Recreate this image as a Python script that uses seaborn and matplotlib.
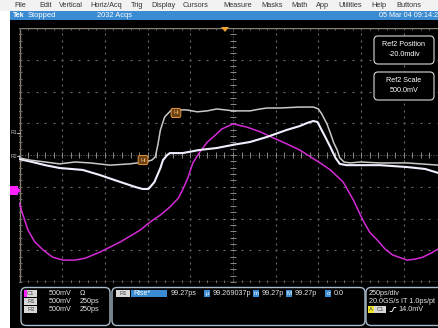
import numpy as np
import pandas as pd
import matplotlib
matplotlib.use("Agg")
import matplotlib.pyplot as plt
from matplotlib.patches import Rectangle, FancyBboxPatch, Polygon
import seaborn as sns

sns.set_theme(style="dark")
plt.rcParams["font.family"] = ["Liberation Sans", "DejaVu Sans"]

# ---------------------------------------------------------------- waveforms
# time in ps (250 ps/div), level in mV (500 mV/div)
ch1_t = [-1250, -1235, -1220, -1200, -1160, -1110, -1055, -995, -925, -865,
         -780, -660, -545, -485, -425, -370, -320, -295, -265, -235, -195,
         -150, -115, -65, 0, 80, 160, 235, 315, 390, 510, 570, 645, 705, 760,
         800, 845, 890, 935, 1020, 1065, 1110, 1160, 1210, 1250]
ch1_v = [-760, -900, -1025, -1185, -1370, -1500, -1610, -1655, -1655, -1625,
         -1530, -1370, -1185, -1055, -945, -820, -680, -550, -365, -125, 45,
         205, 285, 410, 490, 440, 365, 270, 175, 80, -125, -235, -425, -710,
         -1025, -1215, -1340, -1480, -1575, -1655, -1640, -1610, -1545, -1465,
         -1400]

ref1_t = [-1250, -1190, -1100, -1015, -925, -835, -720, -605, -515, -475,
          -455, -440, -425, -400, -355, -310, -270, -210, -150, -95, -45, 0,
          100, 160, 200, 275, 390, 470, 500, 520, 550, 570, 590, 610, 625,
          650, 685, 745, 860, 1020, 1205, 1250]
ref1_v = [-45, -80, -110, -140, -110, -125, -160, -140, -110, -80, -30, 160,
          395, 600, 725, 710, 710, 680, 695, 725, 710, 695, 695, 725, 740, 740,
          755, 755, 725, 645, 490, 345, 190, 80, -45, -110, -125, -110, -125,
          -125, -160, -160]

ref2_t = [-1250, -1175, -1100, -1015, -880, -780, -660, -570, -530, -495,
          -485, -460, -445, -425, -410, -385, -370, -295, -195, -95, 0, 100,
          200, 315, 390, 435, 470, 495, 510, 540, 570, 600, 625, 665, 745, 860,
          1020, 1125, 1205, 1250]
ref2_v = [-65, -110, -160, -205, -235, -315, -425, -505, -535, -535, -505,
          -425, -330, -205, -80, 0, 30, 30, 80, 110, 160, 205, 285, 395, 455,
          505, 535, 520, 440, 285, 125, -45, -140, -160, -160, -160, -190,
          -220, -285, -315]

# ---------------------------------------------------------------- texts
menu_items = ["File", "Edit", "Vertical", "Horiz/Acq", "Trig", "Display",
              "Cursors", "Measure", "Masks", "Math", "App", "Utilities",
              "Help", "Buttons"]
status_run = "Stopped"
status_acqs = "2032 Acqs"
status_date = "05 Mar 04 09:14:2"
ch_rows = [("C1", "500mV", "\u03a9"), ("R1", "500mV", "250ps"),
           ("R2", "500mV", "250ps")]
meas_name = "Rise*"
meas_value = "99.27ps"
meas_stats = [("\u03bc", "99.269037p"), ("m", "99.27p"), ("M", "99.27p"),
              ("\u03c3", "0.0")]
horiz_lines = ["250ps/div", "20.0GS/s IT 1.0ps/pt"]
trig_level = "14.0mV"
ref_boxes = [("Ref2 Position", "-20.0mdiv"), ("Ref2 Scale", "500.0mV")]

# ---------------------------------------------------------------- colours
MAGENTA = "#d42ad6"
REF1 = "#c9c9c9"
REF2 = "#eef0ff"
GRID = "#6f6f6f"
FRAME = "#8c8470"
BLUE = "#3b8bd3"
BORDER = "#a9bccd"
TXT = "#e6e6e6"
ORANGE = "#e8963a"

W, H = 439, 328
fig = plt.figure(figsize=(W / 100, H / 100), dpi=100)
fig.patch.set_facecolor("white")


def pixel_axes(z):
    a = fig.add_axes([0, 0, 1, 1], zorder=z)
    a.set_xlim(0, W)
    a.set_ylim(H, 0)
    a.axis("off")
    a.patch.set_alpha(0)
    return a


bg = pixel_axes(0)
# instrument screen
bg.add_patch(Rectangle((10, 20), W - 10, H - 20, color="black", lw=0))
# menu bar
bg.add_patch(Rectangle((0, 0), W, 11, color="#f2f2f2", lw=0))
menu_x = [14, 39, 59, 90, 131, 151, 183, 223, 261, 291, 316, 338, 371, 396]
for x, s in zip(menu_x, menu_items):
    bg.text(x, 5.8, s, fontsize=5.3, color="#333333", va="center", ha="left")
# status bar
bg.add_patch(Rectangle((10, 11), W - 10, 9, color=BLUE, lw=0))
bg.text(13, 15.6, "Tek", fontsize=5, color="white", va="center",
        fontweight="bold")
bg.text(28, 15.6, status_run, fontsize=5.4, color="white", va="center")
bg.text(97, 15.6, status_acqs, fontsize=5.4, color="white", va="center")
bg.text(438, 15.6, status_date, fontsize=5.2, color="white", va="center",
        ha="right")

# ---------------------------------------------------------------- graticule
x0, x1, y0, y1 = 19.5, 446.5, 28, 282
ax = fig.add_axes([x0 / W, 1 - y1 / H, (x1 - x0) / W, (y1 - y0) / H],
                  zorder=1)
ax.set_xlim(-1250, 1250)
ax.set_ylim(-2000, 2000)
ax.patch.set_alpha(0)
for s in ax.spines.values():
    s.set_visible(False)
ax.set_xticks([])
ax.set_yticks([])

sub_x = np.arange(-1250, 1251, 50)
sub_y = np.arange(-2000, 2001, 100)
for k in range(-4, 5):
    if k == 0:
        continue
    ax.plot(np.full(sub_y.size, k * 250), sub_y, ls="none", marker="|",
            ms=1.3, mew=0.8, color=GRID)
for k in range(-3, 4):
    if k == 0:
        continue
    ax.plot(sub_x, np.full(sub_x.size, k * 500), ls="none", marker="_",
            ms=1.3, mew=0.8, color=GRID)
# centre cross with sub-division ticks
ax.axhline(0, color=GRID, lw=0.5, ls=(0, (2, 2)))
ax.axvline(0, color=GRID, lw=0.5, ls=(0, (2, 2)))
ax.plot(sub_x, np.zeros(sub_x.size), ls="none", marker="|", ms=4.2,
        mew=0.7, color="#8a8a8a")
ax.plot(np.zeros(sub_y.size), sub_y, ls="none", marker="_", ms=4.2,
        mew=0.7, color="#8a8a8a")
# frame with inward ticks
ax.axhline(-2000, color=FRAME, lw=1.0)
ax.axhline(2000, color=FRAME, lw=1.0)
ax.axvline(-1250, color=FRAME, lw=1.0)
ax.plot(sub_x, np.full(sub_x.size, -2000), ls="none", marker="|", ms=3.5,
        mew=0.7, color=GRID)
ax.plot(sub_x, np.full(sub_x.size, 2000), ls="none", marker="|", ms=3.5,
        mew=0.7, color=GRID)
ax.plot(np.full(sub_y.size, -1250), sub_y, ls="none", marker="_", ms=3.5,
        mew=0.7, color=GRID)

# ---------------------------------------------------------------- traces
ch1 = pd.DataFrame({"t": ch1_t, "v": ch1_v})
r1 = pd.DataFrame({"t": ref1_t, "v": ref1_v})
r2 = pd.DataFrame({"t": ref2_t, "v": ref2_v})
sns.lineplot(data=ch1, x="t", y="v", ax=ax, color=MAGENTA, lw=1.1,
             estimator=None, sort=False)
sns.lineplot(data=r2, x="t", y="v", ax=ax, color=REF2, lw=1.5,
             estimator=None, sort=False)
sns.lineplot(data=r1, x="t", y="v", ax=ax, color=REF1, lw=1.1,
             estimator=None, sort=False)
ax.set_xlabel("")
ax.set_ylabel("")

# rise-time reference level tags on the Ref1 edge
tag_style = dict(boxstyle="round,pad=0.35,rounding_size=0.3", fc="#6a4418",
                 ec=ORANGE, lw=0.7)
ax.text(-527, -80, "Hi", fontsize=4.2, color="#f4b060", ha="center",
        va="center", bbox=tag_style)
ax.text(-334, 662, "Hi", fontsize=4.2, color="#f4b060", ha="center",
        va="center", bbox=tag_style)

# ---------------------------------------------------------------- overlays
fg = pixel_axes(2)
# trigger position marker
fg.add_patch(Polygon([[221, 27], [229, 27], [225, 32]], color="#f0a030",
                     lw=0))
# reference / channel ground markers
fg.text(11, 133, "R1", fontsize=3.8, color="#bbbbbb", va="center")
fg.plot([17, 20], [133, 133], color="#bbbbbb", lw=0.8)
fg.text(11, 156, "R2", fontsize=3.8, color="#bbbbbb", va="center")
fg.plot([17, 20], [156, 156], color="#bbbbbb", lw=0.8)
fg.add_patch(Rectangle((10, 186), 8, 9, color="#ff20ff", lw=0))
fg.add_patch(Polygon([[18, 188], [21, 190.5], [18, 193]], color="#ff20ff",
                     lw=0))

# Ref2 setting boxes
for i, (a, b) in enumerate(ref_boxes):
    top = 36 + i * 36
    fg.add_patch(FancyBboxPatch((374, top), 60, 28,
                                boxstyle="round,pad=0,rounding_size=4",
                                fc="black", ec="#d8d8d8", lw=0.8))
    fg.text(404, top + 8, a, fontsize=5.2, color="white", ha="center",
            va="center")
    fg.text(404, top + 19, b, fontsize=5.2, color="white", ha="center",
            va="center")

# readout panels
panels = [(21, 89), (112, 253), (366, 80)]
for px, pw in panels:
    fg.add_patch(FancyBboxPatch((px, 287.5), pw, 38,
                                boxstyle="round,pad=0,rounding_size=5",
                                fc="black", ec=BORDER, lw=1.0))

row_y = [293.5, 301.5, 309.5]
for (lab, scale, extra), yy in zip(ch_rows, row_y):
    fg.add_patch(Rectangle((24, yy - 3.3), 13, 6.6, color="#d8d8d8", lw=0))
    if lab == "C1":
        fg.add_patch(Rectangle((24, yy - 3.3), 3, 6.6, color="#ff20ff",
                               lw=0))
    fg.text(31, yy, lab, fontsize=4.2, color="#444444", ha="center",
            va="center")
    fg.text(49, yy, scale, fontsize=5.2, color=TXT, va="center")
    fg.text(80, yy, extra, fontsize=5.2, color=TXT, va="center")

y_m = 293.5
fg.add_patch(Rectangle((116, y_m - 3.3), 14, 6.6, color="#d8d8d8", lw=0))
fg.text(123, y_m, "R1", fontsize=4.2, color="#444444", ha="center",
        va="center")
fg.add_patch(Rectangle((131, y_m - 3.3), 36, 6.6, color=BLUE, lw=0))
fg.text(133, y_m, meas_name, fontsize=5.2, color="white", va="center")
fg.text(171, y_m, meas_value, fontsize=5.2, color=TXT, va="center")
stat_x = [204, 253, 286, 325]
for (sym, val), sx in zip(meas_stats, stat_x):
    fg.add_patch(Rectangle((sx, y_m - 3.3), 6.5, 6.6, color=BLUE, lw=0))
    fg.text(sx + 3.25, y_m, sym, fontsize=4.4, color="white", ha="center",
            va="center")
    fg.text(sx + 9, y_m, val, fontsize=5.2, color=TXT, va="center")

fg.text(369, 293.5, horiz_lines[0], fontsize=5.2, color=TXT, va="center")
fg.text(369, 301.5, horiz_lines[1], fontsize=5.2, color=TXT, va="center")
fg.add_patch(Rectangle((368, 306.2), 6, 6.6, color="#f2e830", lw=0))
fg.text(371, 309.5, "A", fontsize=4.2, color="#444444", ha="center",
        va="center")
fg.add_patch(Rectangle((374.5, 306.2), 12, 6.6, color="#d8d8d8", lw=0))
fg.text(380.5, 309.5, "C1", fontsize=4.2, color="#444444", ha="center",
        va="center")
fg.plot([390, 392, 394, 396], [311.5, 311.5, 307.5, 307.5], color=TXT,
        lw=0.7)
fg.text(398, 309.5, trig_level, fontsize=5.2, color=TXT, va="center")

fig.savefig("out.png", dpi=100, facecolor=fig.get_facecolor())
